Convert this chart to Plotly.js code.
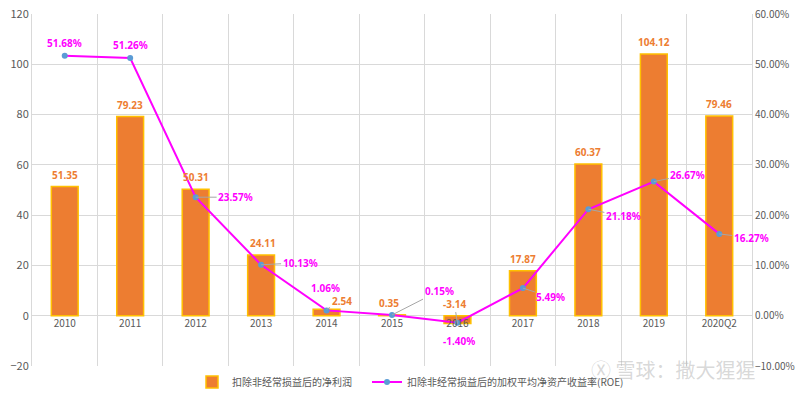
<!DOCTYPE html>
<html><head><meta charset="utf-8">
<script src="https://cdn.plot.ly/plotly-3.0.1.min.js"></script>
<style>body{margin:0;background:#fff}#c{width:800px;height:394px}</style>
</head><body><div id="c"></div>
<script>
const categories = ['2010','2011','2012','2013','2014','2015','2016','2017','2018','2019','2020Q2'];
const profit = [51.35, 79.23, 50.31, 24.11, 2.54, 0.35, -3.14, 17.87, 60.37, 104.12, 79.46];
const roe = [0.5168, 0.5126, 0.2357, 0.1013, 0.0106, 0.0015, -0.0140, 0.0549, 0.2118, 0.2667, 0.1627];
const profitLabels = ['51.35','79.23','50.31','24.11','2.54','0.35','-3.14','17.87','60.37','104.12','79.46'];
const roeLabels = ['51.68%','51.26%','23.57%','10.13%','1.06%','0.15%','-1.40%','5.49%','21.18%','26.67%','16.27%'];
const seriesNames = ['扣除非经常损益后的净利润','扣除非经常损益后的加权平均净资产收益率(ROE)'];
const yRange = [-20, 120];
const y2Range = [-0.1, 0.6];

// label placement styles (pixel offsets: dx, dy, leader line?)
const profitOff = [[0,-12,0],[0,-12,0],[0,-12,0],[2,-12,0],[15,-8,1],[-3,-12,0],[-3,-20,1],[0,-12,0],[0,-12,0],[0,-12,0],[0,-12,0]];
const roeOff = [[0,-13,0],[0,-13,0],[40,0,1],[39,-2,1],[-1,-22,0],[47,-24,1],[2,18,0],[28,9,1],[35,7,1],[34,-7,1],[32,4,1]];

const labelFont = {family:'Noto Sans, Open Sans, sans-serif', size:10, weight:'bold'};
const annotations = [];
categories.forEach((c,i)=>{
  const po = profitOff[i];
  annotations.push({x:i, y:profit[i], xref:'x', yref:'y', text:profitLabels[i],
    showarrow:!!po[2], ax:po[0], ay:po[1], xshift: po[2]?0:po[0], yshift: po[2]?0:-po[1],
    arrowhead:0, arrowwidth:1, arrowcolor:'#A6A6A6', standoff:0,
    font:Object.assign({color:'#ED7D31'}, labelFont)});
  const ro = roeOff[i];
  annotations.push({x:i, y:roe[i], xref:'x', yref:'y2', text:roeLabels[i],
    showarrow:!!ro[2], ax:ro[0], ay:ro[1], xshift: ro[2]?0:ro[0], yshift: ro[2]?0:-ro[1],
    arrowhead:0, arrowwidth:1, arrowcolor:'#A6A6A6', standoff:0,
    font:Object.assign({color:'#FF00FF'}, labelFont)});
});
annotations.push({xref:'paper', yref:'paper', x:1.007, y:-0.01, xanchor:'right', yanchor:'middle',
  text:'Ⓧ 雪球：撒大猩猩', showarrow:false,
  font:{family:'Noto Sans CJK SC', size:20, color:'rgba(170,170,170,0.45)'}});

const traces = [
  {type:'bar', name:seriesNames[0], x:categories, y:profit, yaxis:'y', width:0.41, legend:'legend',
   marker:{color:'#ED7D31', line:{color:'#FFC000', width:1.5}}, hoverinfo:'skip'},
  {type:'scatter', mode:'lines+markers', name:seriesNames[1], x:categories, y:roe, yaxis:'y2', legend:'legend2',
   line:{color:'#FF00FF', width:2}, marker:{color:'#5B9BD5', size:6}, hoverinfo:'skip'}
];

const legendFont = {size:10, color:'#595959', family:'Noto Sans CJK SC, sans-serif'};
const layout = {
  width:800, height:394, margin:{l:32, r:48, t:14, b:28},
  paper_bgcolor:'#fff', plot_bgcolor:'#fff', showlegend:true,
  font:{family:'Noto Sans CJK SC, Noto Sans, sans-serif', color:'#595959', size:11},
  xaxis:{type:'category', range:[-0.5, categories.length-0.5], tickson:'boundaries', showgrid:true,
    gridcolor:'#D9D9D9', gridwidth:1, ticks:'', showline:false, zeroline:false,
    anchor:'free', position:(0-yRange[0])/(yRange[1]-yRange[0]),
    tickfont:{size:10, color:'#595959', family:'Noto Sans CJK SC, sans-serif'}},
  yaxis:{range:yRange, dtick:20, showgrid:true, gridcolor:'#D9D9D9', zeroline:true, zerolinecolor:'#D9D9D9',
    showline:true, linecolor:'#D9D9D9', ticks:'', tickfont:{size:11, color:'#595959'}},
  yaxis2:{range:y2Range, dtick:0.1, tickformat:'.2%', overlaying:'y', side:'right', showgrid:false,
    zeroline:false, showline:true, linecolor:'#D9D9D9', ticks:'', tickfont:{size:10, color:'#595959'}},
  legend:{orientation:'h', xref:'container', x:192/800, xanchor:'left', yref:'container', y:12/394, yanchor:'middle',
    font:legendFont, itemwidth:30, bgcolor:'rgba(0,0,0,0)'},
  legend2:{orientation:'h', xref:'container', x:367/800, xanchor:'left', yref:'container', y:12/394, yanchor:'middle',
    font:legendFont, itemwidth:30, bgcolor:'rgba(0,0,0,0)'},
  bargap:0.59, annotations:annotations
};
Plotly.newPlot('c', traces, layout, {staticPlot:true});
</script></body></html>
